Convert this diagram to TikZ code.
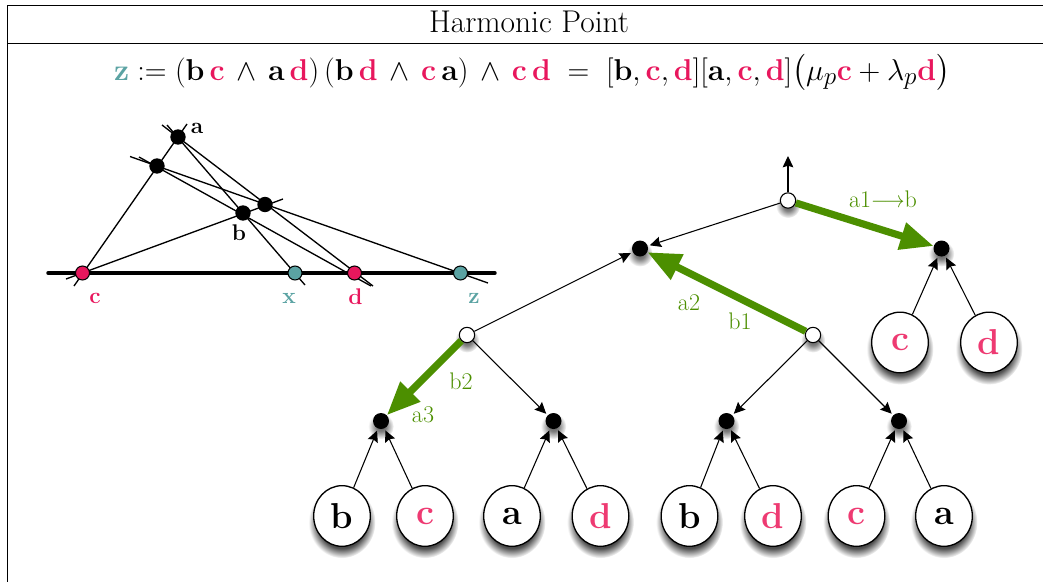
\documentclass[tikz,border=0pt]{standalone}
\usepackage{amsmath}
\usepackage{graphicx}
\usetikzlibrary{arrows.meta,shadows,shapes.geometric,fadings}
\definecolor{ptPink}{HTML}{E8175D}
\definecolor{ptRose}{HTML}{EE3A72}
\definecolor{ptTeal}{HTML}{5BA3A3}
\definecolor{ptGreen}{HTML}{4C8F00}
\newcommand{\cc}{\mathbf{\color{ptPink}c}}
\newcommand{\dd}{\mathbf{\color{ptPink}d}}
\newcommand{\bb}{\mathbf{b}}
\newcommand{\aaa}{\mathbf{a}}
\pgfdeclareradialshading{softleafshade}{\pgfpointorigin}{color(0bp)=(pgftransparent!25); color(18bp)=(pgftransparent!30); color(25bp)=(pgftransparent!100); color(50bp)=(pgftransparent!100)}
\pgfdeclareradialshading{softdotshade}{\pgfpointorigin}{color(0bp)=(pgftransparent!35); color(10bp)=(pgftransparent!50); color(25bp)=(pgftransparent!100); color(50bp)=(pgftransparent!100)}
\pgfdeclarefading{softleaf}{\pgfuseshading{softleafshade}}
\pgfdeclarefading{softdot}{\pgfuseshading{softdotshade}}

\begin{document}
\begin{tikzpicture}[
  x=0.75pt, y=-0.75pt,
  >={Stealth[length=8.5pt,width=8pt,inset=1.2pt]},
  blob/.style={circle, fill=black, inner sep=0pt, minimum size=11.5pt},
  gpoint/.style={circle, draw=black, line width=0.8pt, inner sep=0pt, minimum size=10.5pt},
  tipdot/.style={circle, fill=black, inner sep=0pt, minimum size=12pt,
    general shadow={fill=black, path fading=softdot, shadow xshift=0pt, shadow yshift=-2.5pt, shadow scale=1.6}},
  joindot/.style={circle, draw=black, fill=white, line width=0.8pt, inner sep=0pt, minimum size=11.5pt,
    general shadow={fill=black, path fading=softdot, shadow xshift=0pt, shadow yshift=-2.5pt, shadow scale=1.6}},
  leaf/.style={ellipse, draw=black, fill=white, line width=1pt, inner sep=0pt,
    minimum width=42.5pt, minimum height=45.5pt, font=\fontsize{27}{30}\selectfont\bfseries,
    general shadow={fill=black, path fading=softleaf, shadow xshift=0pt, shadow yshift=-4pt, shadow scale=1.18}},
  wire/.style={->, line width=0.8pt, shorten >=1.5pt},
  fatwire/.style={-{Triangle[length=25pt,width=20pt]}, line width=5.4pt, draw=ptGreen},
  moveLabel/.style={font=\fontsize{18}{20}\selectfont, text=ptGreen, inner sep=0pt},
  glabel/.style={font=\fontsize{17}{20}\selectfont\bfseries, inner sep=0pt}
]
  \useasboundingbox (0,0) rectangle (1043,582);

  % Frame and heading
  \draw[line width=0.6pt] (7,582) -- (7,5.5) -- (1043,5.5);
  \draw[line width=0.6pt] (7,43) -- (1043,43);
  \node[font=\fontsize{23.6}{26}\selectfont, inner sep=0pt, anchor=base] (title) at (529,32) {Harmonic Point};
  \node[font=\fontsize{22.8}{26}\selectfont, inner sep=0pt, anchor=base] (formula) at (532,80) {%
    \scalebox{1.09}{$\mathbf{\color{ptTeal}z} := (\bb\,\cc\,\wedge\,\aaa\,\dd)\,(\bb\,\dd\,\wedge\,\cc\,\aaa)\,\wedge\,\cc\,\dd
    \;=\;[\bb,\cc,\dd][\aaa,\cc,\dd]\bigl(\mu_p\cc+\lambda_p\dd\bigr)$}};

  % Geometric figure
  \coordinate (cEnd) at (74,286);
  \coordinate (aEnd) at (187,124);
  \coordinate (cTail) at (66,279);
  \coordinate (fEnd) at (283,199);
  \coordinate (aTailx) at (167,125);
  \coordinate (xEnd) at (305,285);
  \coordinate (aTaild) at (162,125);
  \coordinate (dEnd) at (373,286);
  \coordinate (eTaild) at (139,157);
  \coordinate (dEndb) at (371,286);
  \coordinate (eTailz) at (130,156.5);
  \coordinate (zEnd) at (488,283);
  \coordinate (lineL) at (48,273);
  \coordinate (lineR) at (495,273);

  \draw[line width=1pt] (cEnd) -- (aEnd);
  \draw[line width=1pt] (cTail) -- (fEnd);
  \draw[line width=1pt] (aTailx) -- (xEnd);
  \draw[line width=1pt] (aTaild) -- (dEnd);
  \draw[line width=1pt] (eTaild) -- (dEndb);
  \draw[line width=1pt] (eTailz) -- (zEnd);
  \draw[line width=2.6pt, line cap=round] (lineL) -- (lineR);

  \node[blob] (pa) at (178,137) {};
  \node[blob] (pe) at (157,166) {};
  \node[blob] (pf) at (265,204.5) {};
  \node[blob] (pb) at (243,213) {};
  \node[gpoint, fill=ptPink] (pc) at (82.5,273) {};
  \node[gpoint, fill=ptTeal] (px) at (295,273) {};
  \node[gpoint, fill=ptPink] (pd) at (354.5,273) {};
  \node[gpoint, fill=ptTeal] (pz) at (460.5,273) {};

  \node[glabel] at (197,128) {a};
  \node[glabel] at (239,233) {b};
  \node[glabel, text=ptPink] at (95,298) {c};
  \node[glabel, text=ptTeal] at (289,298) {x};
  \node[glabel, text=ptPink] at (355.5,297) {d};
  \node[glabel, text=ptTeal] at (474,298) {z};

  % Tree
  \coordinate (rootUp) at (788,154);
  \node[joindot] (root) at (788,200.5) {};
  \node[tipdot] (n1) at (640,248.5) {};
  \node[tipdot] (n2) at (941.5,248.5) {};
  \node[joindot] (w1) at (467,335) {};
  \node[joindot] (w2) at (813,335) {};
  \node[tipdot] (t1) at (381,421) {};
  \node[tipdot] (t2) at (553.5,421) {};
  \node[tipdot] (t3) at (726.5,421) {};
  \node[tipdot] (t4) at (899,421) {};

  \node[leaf, text=ptRose] (l1) at (900,342.5) {c};
  \node[leaf, text=ptRose] (l2) at (989,342.5) {d};
  \node[leaf] (l3) at (342,516) {b};
  \node[leaf, text=ptRose] (l4) at (425,516) {c};
  \node[leaf] (l5) at (512,516) {a};
  \node[leaf, text=ptRose] (l6) at (600.5,516) {d};
  \node[leaf] (l7) at (689.5,516) {b};
  \node[leaf, text=ptRose] (l8) at (773,516) {d};
  \node[leaf, text=ptRose] (l9) at (856.5,516) {c};
  \node[leaf] (l10) at (944,516) {a};

  \draw[wire] (root) -- (rootUp);
  \draw[wire] (root) -- (n1);
  \draw[wire] (w1) -- (n1);
  \draw[wire] (w1) -- (t2);
  \draw[wire] (w2) -- (t3);
  \draw[wire] (w2) -- (t4);
  \foreach \a/\b in {l1/n2, l2/n2, l3/t1, l4/t1, l5/t2, l6/t2, l7/t3, l8/t3, l9/t4, l10/t4}
    \draw[wire] (\a) -- (\b);

  % Green moves
  \draw[fatwire] (root) -- (n2);
  \draw[fatwire] (w2) -- (n1);
  \draw[fatwire] (w1) -- (t1);

  \node[moveLabel] (m1) at (883,199.5) {a1\scalebox{0.9}[1]{$\longrightarrow$}b};
  \node[moveLabel] (m2) at (689,303) {a2};
  \node[moveLabel] (m3) at (740,321) {b1};
  \node[moveLabel] (m4) at (461,381) {b2};
  \node[moveLabel] (m5) at (423,415) {a3};
\end{tikzpicture}
\end{document}
